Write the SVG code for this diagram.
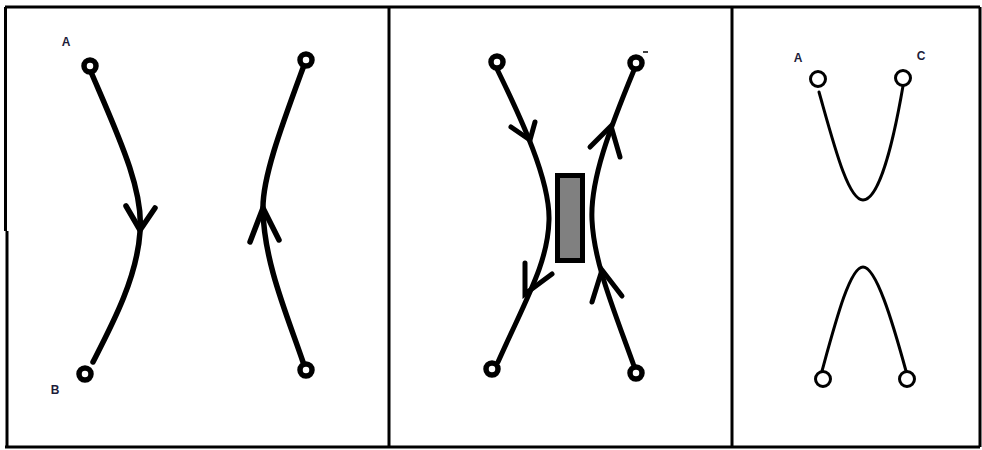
<svg xmlns="http://www.w3.org/2000/svg" width="982" height="450" viewBox="0 0 982 450">
<style>
.frame{stroke:#000;stroke-width:3;fill:none}
.thick{stroke:#000;stroke-width:5.5;fill:none;stroke-linecap:round}
.mid{stroke:#000;stroke-width:5;fill:none;stroke-linecap:round}
.thin{stroke:#000;stroke-width:3;fill:none;stroke-linecap:round}
.node{fill:#fff;stroke:#000;stroke-width:5.5}
.node3{fill:#fff;stroke:#000;stroke-width:3}
.lbl{font-family:"Liberation Sans",Arial,sans-serif;font-weight:bold;font-size:12px;fill:#1c1c3a;text-anchor:middle}
</style>
<rect width="982" height="450" fill="#fff"/>
<g id="frame">
<line class="frame" x1="5" y1="7" x2="980" y2="7"/>
<line class="frame" x1="5" y1="447" x2="980" y2="447"/>
<line class="frame" x1="5.5" y1="7" x2="5.5" y2="231"/>
<line class="frame" x1="7" y1="231" x2="7" y2="447"/>
<line class="frame" x1="389" y1="7" x2="389" y2="447"/>
<line class="frame" x1="732" y1="7" x2="732" y2="447"/>
<line class="frame" x1="980" y1="7" x2="980" y2="447"/>
</g>
<g id="connectors">
<path class="thick" d="M 91 72 C 118 135, 144 190, 140 232 C 137 278, 112 325, 93 362"/>
<path class="thick" d="M 126 206 L 140 230 L 155 208"/>
<path class="thick" d="M 303 68 C 282 125, 262 178, 263 210 C 264 262, 287 315, 303 362"/>
<path class="thick" d="M 250 242 L 263 208 L 279 240"/>
<path class="mid" d="M 497 69 C 521 118, 550 180, 549 220 C 548 262, 528 295, 498 362"/>
<path class="mid" d="M 511 127 L 530 140 L 535 122"/>
<path class="mid" d="M 525 263 L 525 294 L 552 274"/>
<path class="mid" d="M 634 70 C 610 128, 590 180, 592 220 C 594 262, 612 305, 634 366"/>
<path class="mid" d="M 590 147 L 611 126 L 620 157"/>
<path class="mid" d="M 592 302 L 602 270 L 622 296"/>
<path class="thin" d="M 819 92 C 834 145, 848 200, 863 200 C 878 200, 892 150, 903 86"/>
<path class="thin" d="M 822 371 C 836 320, 850 267, 863 267 C 876 267, 892 320, 906 371"/>
</g>
<g id="rect"><rect x="557.5" y="175.5" width="25" height="85" fill="#808080" stroke="#000" stroke-width="5"/></g>
<g id="nodeA"><circle class="node" cx="90" cy="66" r="6"/><text class="lbl" x="66" y="46">A</text></g>
<g id="nodeB"><circle class="node" cx="85" cy="374" r="6"/><text class="lbl" x="55" y="394">B</text></g>
<g id="n1tr"><circle class="node" cx="306" cy="60" r="6"/></g>
<g id="n1br"><circle class="node" cx="306" cy="370" r="6"/></g>
<g id="n2tl"><circle class="node" cx="497" cy="62" r="6"/></g>
<g id="n2tr"><circle class="node" cx="636" cy="63" r="6"/><line x1="643" y1="52" x2="648" y2="52" stroke="#000" stroke-width="1.5"/></g>
<g id="n2bl"><circle class="node" cx="492" cy="369" r="6"/></g>
<g id="n2br"><circle class="node" cx="636" cy="373" r="6"/></g>
<g id="n3A"><circle class="node3" cx="818" cy="79" r="7.5"/><text class="lbl" x="798" y="62">A</text></g>
<g id="n3C"><circle class="node3" cx="903" cy="78" r="7.5"/><text class="lbl" x="921" y="60">C</text></g>
<g id="n3bl"><circle class="node3" cx="823" cy="379" r="7.5"/></g>
<g id="n3br"><circle class="node3" cx="907" cy="379" r="7.5"/></g>
</svg>
